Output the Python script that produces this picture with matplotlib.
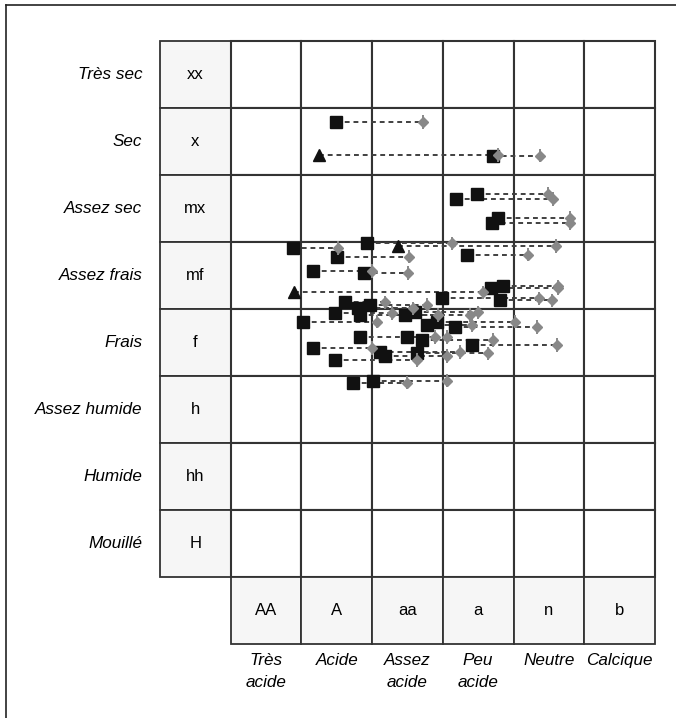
import matplotlib
matplotlib.use('Agg')
import matplotlib.pyplot as plt
from matplotlib.patches import Rectangle
from matplotlib.lines import Line2D

plt.rcParams['font.family'] = ['Liberation Sans', 'DejaVu Sans']

# grid categories (rows: moisture, columns: acidity)
row_codes = ['xx', 'x', 'mx', 'mf', 'f', 'h', 'hh', 'H']
row_names = ['Très sec', 'Sec', 'Assez sec', 'Assez frais', 'Frais',
             'Assez humide', 'Humide', 'Mouillé']
col_codes = ['AA', 'A', 'aa', 'a', 'n', 'b']
col_names = ['Très\nacide', 'Acide', 'Assez\nacide', 'Peu\nacide', 'Neutre', 'Calcique']

# observations in grid units (column index, row index); start = black, end = grey
x_start = [2.49, 2.25, 4.71, 4.19, 4.48, 4.70, 4.78, 1.88, 2.93, 3.37,
           2.50, 4.34, 2.16, 2.89, 1.90, 4.68, 4.85, 3.99, 4.81, 2.62,
           2.48, 2.80, 2.97, 2.83, 3.47, 3.61, 2.02, 3.78, 3.92, 4.17,
           2.83, 3.49, 3.71, 4.41, 2.16, 3.11, 3.18, 3.64, 2.48, 2.73,
           3.01]
x_end = [3.72, 4.78, 5.37, 5.56, 5.49, 5.80, 5.80, 2.52, 4.13, 5.60,
         3.52, 5.21, 3.00, 3.51, 4.57, 5.63, 5.63, 5.36, 5.54, 3.18,
         3.28, 3.58, 3.78, 3.93, 4.38, 4.50, 3.07, 4.41, 5.02, 5.33,
         3.89, 4.06, 4.71, 5.62, 3.00, 4.24, 4.06, 4.64, 3.64, 3.49,
         4.06]
y_val = [1.21, 1.70, 1.71, 2.36, 2.28, 2.72, 2.64, 3.09, 3.02, 3.06,
         3.22, 3.19, 3.43, 3.46, 3.75, 3.69, 3.66, 3.84, 3.87, 3.90,
         4.06, 3.99, 3.94, 4.09, 4.09, 4.05, 4.19, 4.24, 4.19, 4.27,
         4.42, 4.42, 4.46, 4.54, 4.58, 4.64, 4.70, 4.66, 4.76, 5.10,
         5.07]
marker_kind = ['s', '^', 's', 's', 's', 's', 's', 's', 's', '^',
               's', 's', 's', 's', '^', 's', 's', 's', 's', 's',
               's', 's', 's', 's', 's', 's', 's', 's', 's', 's',
               's', 's', 's', 's', 's', 's', 's', 's', 's', 's',
               's']

W, H = 676, 718
fig = plt.figure(figsize=(W / 100, H / 100), dpi=100)
ax = fig.add_axes([0, 0, 1, 1])
x0, cw = 160, 70.7
y0, rh = 41, 67
ax.set_xlim(-x0 / cw, (W - x0) / cw)
ax.set_ylim((H - y0) / rh, -y0 / rh)
ax.axis('off')

edge = '#333333'
fill = '#f6f6f6'
n_rows, n_cols = len(row_codes), len(col_codes)

# row label column
for i, (code, name) in enumerate(zip(row_codes, row_names)):
    ax.add_patch(Rectangle((0, i), 1, 1, facecolor=fill, edgecolor=edge, lw=1.3, zorder=1))
    ax.text(0.5, i + 0.5, code, ha='center', va='center', fontsize=12)
    ax.text(-0.25, i + 0.5, name, ha='right', va='center', fontsize=12.3, style='italic')

# empty cells
for i in range(n_rows):
    for j in range(n_cols):
        ax.add_patch(Rectangle((j + 1, i), 1, 1, facecolor='white', edgecolor=edge,
                               lw=1.5, zorder=1))

# column label row
for j, (code, name) in enumerate(zip(col_codes, col_names)):
    ax.add_patch(Rectangle((j + 1, n_rows), 1, 1, facecolor=fill, edgecolor=edge,
                           lw=1.3, zorder=1))
    ax.text(j + 1.5, n_rows + 0.5, code, ha='center', va='center', fontsize=12)
    ax.text(j + 1.5, n_rows + 1.13, name, ha='center', va='top', fontsize=12.3,
            style='italic', linespacing=1.6)

# dashed links, black start markers, grey end markers with whiskers
for xs, xe, y, mk in zip(x_start, x_end, y_val, marker_kind):
    ax.plot([xs, xe], [y, y], color='#404040', lw=1.4, ls=(0, (2.5, 2)), zorder=3)
    ax.plot(xs, y, marker=mk, color='#111111', ms=9, ls='none', zorder=4)
    ax.errorbar(xe, y, yerr=0.1, fmt='D', color='#888888', ms=5.5, elinewidth=1.4,
                capsize=0, zorder=5)

# outer frame (top and left only)
fig.add_artist(Line2D([6 / W, 1], [1 - 5 / H, 1 - 5 / H], color='#222222', lw=1.2))
fig.add_artist(Line2D([6 / W, 6 / W], [0, 1 - 5 / H], color='#222222', lw=1.2))

fig.savefig('out.png', dpi=100)
